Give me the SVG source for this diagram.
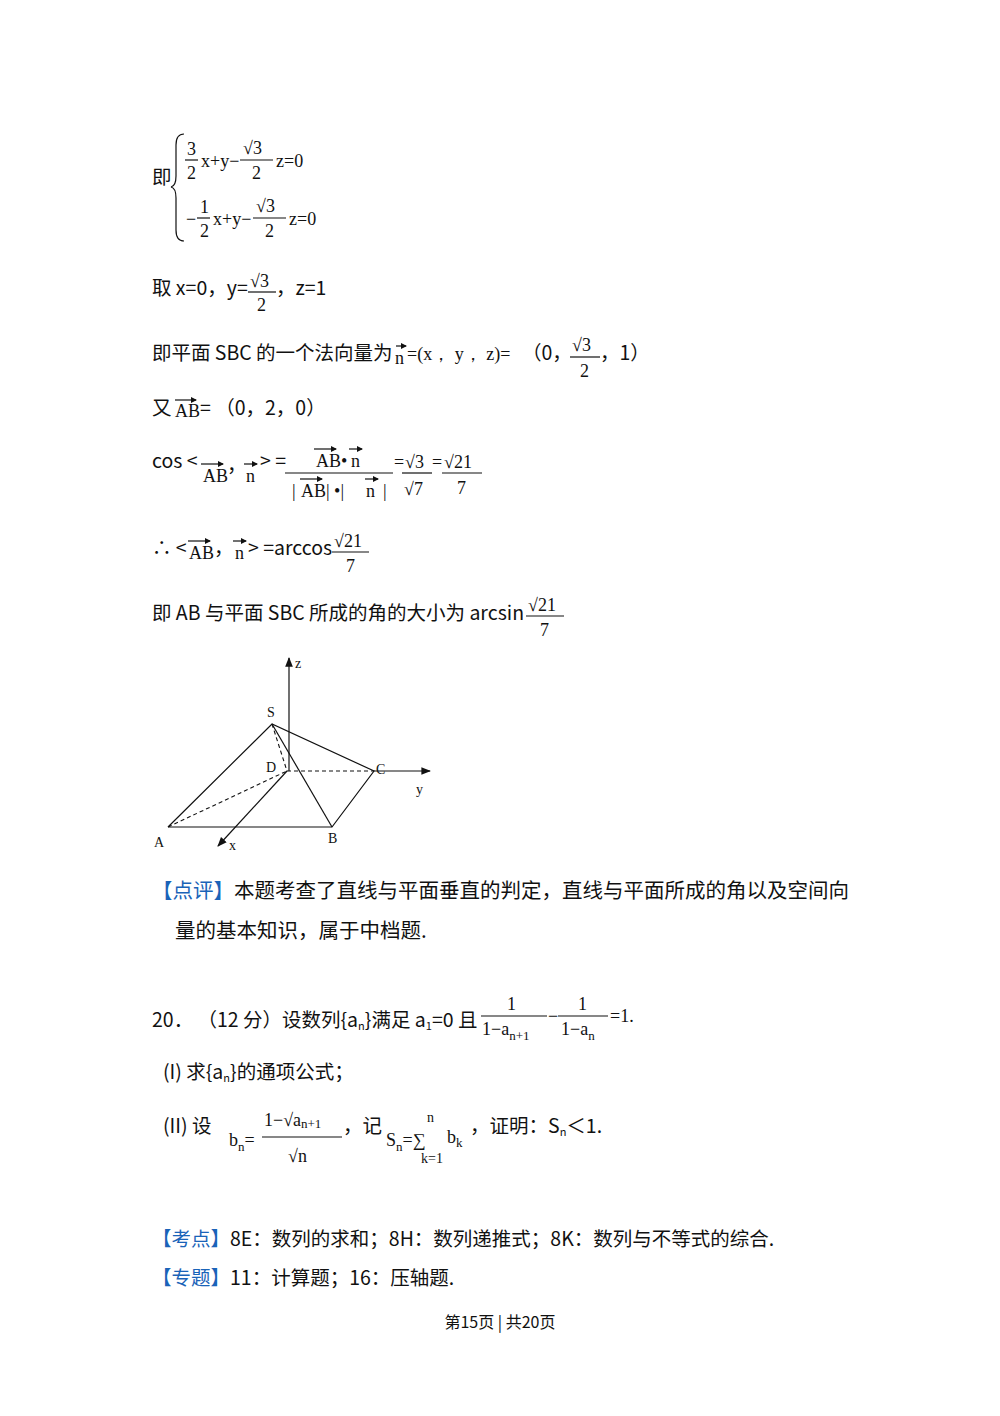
<svg xmlns="http://www.w3.org/2000/svg" width="1000" height="1416" viewBox="0 0 1000 1416">
<style>
.t{font-family:"Noto Sans CJK SC","Noto Sans",sans-serif;font-size:19.5px;fill:#111}
.m{font-family:"Liberation Serif","DejaVu Serif",serif;font-size:18px;fill:#111}
.s{font-family:"Liberation Serif",serif;font-size:14px;fill:#111}
.b{fill:#1a63b8}
.ln{stroke:#111;stroke-width:1.2;fill:none}
.d{stroke:#111;stroke-width:1.1;fill:none;stroke-dasharray:4 3}
</style>
<defs>
<marker id="ar" viewBox="0 0 10 10" refX="9" refY="5" markerWidth="8" markerHeight="8" orient="auto"><path d="M0,1 L10,5 L0,9 Z" fill="#111"/></marker>
<marker id="va" viewBox="0 0 6 6" refX="5" refY="3" markerWidth="5" markerHeight="5" orient="auto"><path d="M0,0 L6,3 L0,6 Z" fill="#111"/></marker>
</defs>

<g id="eq1">
<text class="t" x="152" y="184">即</text>
<path class="ln" d="M184,134 Q176,134 176,145 L176,176 Q176,186 171,187 Q176,188 176,198 L176,230 Q176,241 184,241"/>
<text class="m" x="187" y="155">3</text><line class="ln" x1="185" y1="160" x2="198" y2="160"/><text class="m" x="187" y="179">2</text>
<text class="m" x="201" y="167">x+y−</text>
<text class="m" x="243" y="154">√3</text><line class="ln" x1="240" y1="160" x2="273" y2="160"/><text class="m" x="252" y="179">2</text>
<text class="m" x="276" y="167">z=0</text>
<text class="m" x="186" y="225">−</text>
<text class="m" x="200" y="213">1</text><line class="ln" x1="197" y1="218" x2="210" y2="218"/><text class="m" x="200" y="237">2</text>
<text class="m" x="213" y="225">x+y−</text>
<text class="m" x="256" y="212">√3</text><line class="ln" x1="253" y1="218" x2="286" y2="218"/><text class="m" x="265" y="237">2</text>
<text class="m" x="289" y="225">z=0</text>
</g>

<g id="eq2">
<text class="t" x="152" y="295">取 x=0，y=</text>
<text class="m" x="250" y="287">√3</text><line class="ln" x1="248" y1="292" x2="276" y2="292"/><text class="m" x="257" y="311">2</text>
<text class="t" x="276" y="295">，z=1</text>
</g>

<g id="eq3">
<text class="t" x="152" y="360">即平面 SBC 的一个法向量为</text>
<line class="ln" x1="396" y1="346" x2="406" y2="346" marker-end="url(#va)"/>
<text class="m" x="395" y="364">n</text>
<text class="m" x="407" y="360">=(x，  y，  z)=</text>
<text class="t" x="522" y="360">（0，</text>
<text class="m" x="572" y="351">√3</text><line class="ln" x1="570" y1="357" x2="600" y2="357"/><text class="m" x="580" y="377">2</text>
<text class="t" x="600" y="360">，1）</text>
</g>

<g id="eq4">
<text class="t" x="152" y="415">又</text>
<line class="ln" x1="175" y1="400" x2="196" y2="400" marker-end="url(#va)"/>
<text class="m" x="175" y="417">AB</text>
<text class="t" x="200" y="415">= （0，2，0）</text>
</g>

<g id="eq5">
<text class="t" x="152" y="468">cos &lt;</text>
<line class="ln" x1="201" y1="464" x2="223" y2="464" marker-end="url(#va)"/>
<text class="m" x="203" y="482">AB</text>
<text class="t" x="227" y="472">，</text>
<line class="ln" x1="244" y1="464" x2="257" y2="464" marker-end="url(#va)"/>
<text class="m" x="246" y="482">n</text>
<text class="t" x="260" y="468">&gt; =</text>
<line class="ln" x1="314" y1="449" x2="336" y2="449" marker-end="url(#va)"/>
<text class="m" x="316" y="467">AB</text>
<text class="m" x="341" y="467">•</text>
<line class="ln" x1="349" y1="449" x2="362" y2="449" marker-end="url(#va)"/>
<text class="m" x="351" y="467">n</text>
<line class="ln" x1="285" y1="473" x2="393" y2="473"/>
<text class="m" x="292" y="497">|</text>
<line class="ln" x1="300" y1="479" x2="322" y2="479" marker-end="url(#va)"/>
<text class="m" x="301" y="497">AB</text>
<text class="m" x="326" y="497">|  •|</text>
<line class="ln" x1="365" y1="479" x2="378" y2="479" marker-end="url(#va)"/>
<text class="m" x="366" y="497">n</text>
<text class="m" x="383" y="497">|</text>
<text class="m" x="394" y="468">=</text>
<text class="m" x="405" y="468">√3</text><line class="ln" x1="402" y1="473" x2="432" y2="473"/><text class="m" x="404" y="495">√7</text>
<text class="m" x="432" y="468">=</text>
<text class="m" x="444" y="468">√21</text><line class="ln" x1="442" y1="473" x2="482" y2="473"/><text class="m" x="457" y="494">7</text>
</g>

<g id="eq6">
<text class="t" x="152" y="555">∴ &lt;</text>
<line class="ln" x1="188" y1="541" x2="210" y2="541" marker-end="url(#va)"/>
<text class="m" x="189" y="559">AB</text>
<text class="t" x="214" y="555">，</text>
<line class="ln" x1="233" y1="541" x2="246" y2="541" marker-end="url(#va)"/>
<text class="m" x="235" y="559">n</text>
<text class="t" x="248" y="555">&gt; =arccos</text>
<text class="m" x="334" y="547">√21</text><line class="ln" x1="332" y1="552" x2="369" y2="552"/><text class="m" x="346" y="572">7</text>
</g>

<g id="eq7">
<text class="t" x="152" y="620">即 AB 与平面 SBC 所成的角的大小为 arcsin</text>
<text class="m" x="528" y="611">√21</text><line class="ln" x1="526" y1="616" x2="564" y2="616"/><text class="m" x="540" y="636">7</text>
</g>

<g id="figure">
<line class="ln" x1="289" y1="771" x2="289" y2="658" marker-end="url(#ar)"/>
<line class="ln" x1="374" y1="771" x2="430" y2="771" marker-end="url(#ar)"/>
<line class="ln" x1="287" y1="771" x2="218" y2="846" marker-end="url(#ar)"/>
<line class="d" x1="287" y1="771" x2="374" y2="771"/>
<line class="d" x1="168" y1="827" x2="287" y2="771"/>
<line class="d" x1="272" y1="724" x2="287" y2="771"/>
<polyline class="ln" points="168,827 272,724 374,771 332,827 168,827"/>
<line class="ln" x1="272" y1="724" x2="332" y2="827"/>
<text class="s" x="267" y="717">S</text>
<text class="s" x="266" y="772">D</text>
<text class="s" x="376" y="774">C</text>
<text class="s" x="416" y="794">y</text>
<text class="s" x="154" y="847">A</text>
<text class="s" x="328" y="843">B</text>
<text class="s" x="229" y="850">x</text>
<text class="s" x="295" y="668">z</text>
</g>

<g id="comment">
<text class="t" x="152" y="898" style="font-size:20.5px"><tspan class="b">【点评】</tspan>本题考查了直线与平面垂直的判定，直线与平面所成的角以及空间向</text>
<text class="t" x="175" y="938" style="font-size:20.5px">量的基本知识，属于中档题.</text>
</g>

<g id="q20">
<text class="t" x="152" y="1027">20．  （12 分）设数列{a<tspan font-size="11" dy="3">n</tspan><tspan dy="-3">}满足 a</tspan><tspan font-size="11" dy="3">1</tspan><tspan dy="-3">=0 且</tspan></text>
<text class="m" x="507" y="1010">1</text><line class="ln" x1="481" y1="1016" x2="547" y2="1016"/>
<text class="m" x="482" y="1035">1−a<tspan font-size="13" dy="5">n+1</tspan></text>
<text class="m" x="548" y="1022">−</text>
<text class="m" x="578" y="1010">1</text><line class="ln" x1="558" y1="1016" x2="608" y2="1016"/>
<text class="m" x="561" y="1035">1−a<tspan font-size="13" dy="5">n</tspan></text>
<text class="m" x="610" y="1022">=1.</text>
<text class="t" x="163" y="1079">(I) 求{a<tspan font-size="11" dy="3">n</tspan><tspan dy="-3">}的通项公式；</tspan></text>
<text class="t" x="163" y="1133">(II) 设</text>
<text class="m" x="229" y="1146">b<tspan font-size="13" dy="5">n</tspan><tspan dy="-5">=</tspan></text>
<text class="m" x="264" y="1126">1−√a<tspan font-size="13" dy="2">n+1</tspan></text>
<line class="ln" x1="262" y1="1137" x2="342" y2="1137"/>
<text class="m" x="288" y="1162">√n</text>
<text class="t" x="343" y="1133">，记</text>
<text class="m" x="386" y="1146">S<tspan font-size="13" dy="5">n</tspan><tspan dy="-5">=∑</tspan></text>
<text class="s" x="427" y="1122">n</text>
<text class="s" x="421" y="1163">k=1</text>
<text class="m" x="447" y="1143">b<tspan font-size="13" dy="4">k</tspan></text>
<text class="t" x="470" y="1133">，证明：S<tspan font-size="11" dy="3">n</tspan><tspan dy="-3">＜1.</tspan></text>
</g>

<g id="tags">
<text class="t" x="152" y="1246"><tspan class="b">【考点】</tspan>8E：数列的求和；8H：数列递推式；8K：数列与不等式的综合.</text>
<text class="t" x="152" y="1285"><tspan class="b">【专题】</tspan>11：计算题；16：压轴题.</text>
</g>

<g id="footer">
<text class="t" x="500" y="1328" text-anchor="middle" style="font-size:16px">第15页 | 共20页</text>
</g>
</svg>
